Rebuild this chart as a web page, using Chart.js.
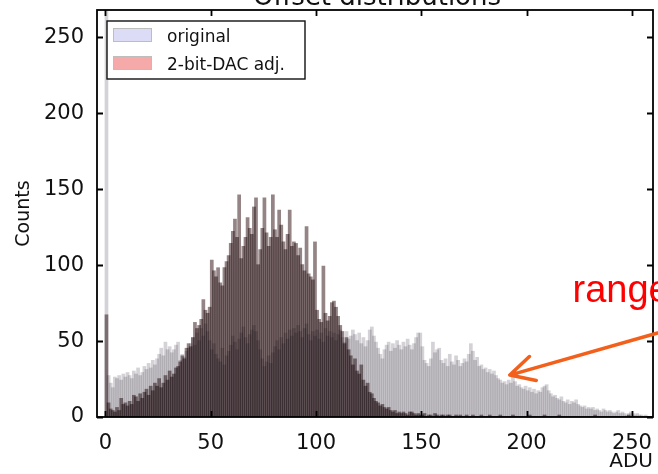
<!DOCTYPE html>
<html>
<head>
<meta charset="utf-8">
<script src="https://cdn.jsdelivr.net/npm/chart.js@4.4.0/dist/chart.umd.min.js"></script>
<style>
html, body { margin: 0; padding: 0; background: #fff; overflow: hidden; }
#wrap { width: 658px; height: 474px; position: relative; }
</style>
</head>
<body>
<div id="wrap"><canvas id="offsetChart"></canvas></div>
<script>
// histogram bins (ADU), one count per bin
var binStart = Array.from({length: 260}, function (_, i) { return i; });

var original = [
  300, 27, 22, 19, 26, 25, 27, 24, 28, 26,
  29, 27, 25, 30, 28, 32, 27, 29, 33, 31,
  35, 32, 37, 34, 38, 41, 45, 40, 49, 44,
  46, 42, 44, 47, 49, 37, 41, 39, 43, 45,
  48, 52, 47, 55, 50, 58, 53, 61, 56, 50,
  44, 48, 41, 38, 36, 45, 34, 40, 43, 47,
  53, 49, 44, 51, 55, 59, 52, 48, 54, 57,
  60, 56, 50, 44, 38, 33, 36, 40, 35, 42,
  46, 50, 44, 52, 48, 55, 51, 57, 53, 58,
  55, 60, 56, 52, 58, 61, 54, 50, 56, 53,
  57, 51, 55, 49, 58, 53, 56, 52, 55, 50,
  54, 57, 52, 49, 56, 51, 53, 57, 54, 50,
  55, 48, 52, 46, 50, 57, 59, 53, 49, 45,
  41, 38, 44, 47, 49, 43, 48, 45, 50, 47,
  44, 49, 46, 51, 47, 44, 48, 52, 55, 55,
  46, 37, 35, 33, 38, 49, 42, 44, 45, 37,
  35, 38, 33, 41, 36, 34, 40, 37, 33, 35,
  38, 36, 41, 48, 43, 37, 39, 33, 34, 31,
  32, 29, 31, 28, 30, 27, 25, 24, 22, 23,
  21, 24, 22, 26, 23, 20, 21, 19, 18, 20,
  17, 19, 16, 18, 15, 17, 16, 19, 20, 21,
  17, 15, 13, 14, 12, 11, 13, 10, 9, 11,
  8, 10, 9, 11, 8, 7, 6, 7, 5, 6,
  5, 6, 4, 5, 4, 3, 5, 4, 3, 4,
  3, 2, 3, 4, 2, 3, 2, 1, 2, 3,
  2, 1, 2, 1, 1, 0, 1, 0, 0, 0
];

var dacAdjusted = [
  67, 9, 5, 4, 3, 6, 4, 12, 8, 9,
  7, 10, 8, 14, 13, 10, 15, 12, 16, 18,
  14, 20, 17, 22, 20, 25, 19, 22, 27, 24,
  30, 26, 28, 32, 33, 36, 40, 38, 45, 48,
  46, 52, 62, 58, 60, 64, 77, 70, 68, 72,
  103, 96, 92, 98, 88, 86, 98, 102, 106, 114,
  122, 130, 118, 146, 104, 112, 118, 131, 124, 120,
  138, 144, 100, 110, 124, 144, 121, 112, 118, 146,
  123, 118, 136, 126, 115, 110, 120, 136, 112, 115,
  114, 106, 111, 100, 96, 125, 94, 92, 90, 115,
  70, 64, 62, 99, 68, 63, 66, 75, 76, 72,
  66, 60, 56, 48, 52, 44, 40, 34, 38, 30,
  28, 34, 24, 20, 22, 16, 15, 12, 10, 9,
  7, 8, 6, 5, 6, 4, 3, 4, 2, 3,
  2, 3, 2, 1, 3, 3, 2, 1, 2, 1,
  1, 2, 0, 1, 1, 0, 2, 1, 0, 1,
  1, 0, 1, 1, 0, 0, 1, 0, 1, 0,
  0, 1, 0, 0, 1, 0, 0, 0, 1, 0,
  0, 0, 1, 0, 0, 0, 0, 1, 0, 0,
  0, 0, 0, 1, 0, 0, 0, 0, 0, 0,
  0, 1, 0, 0, 0, 0, 0, 0, 1, 0,
  0, 0, 0, 0, 0, 1, 0, 0, 0, 0,
  0, 0, 0, 0, 0, 0, 0, 0, 0, 0,
  0, 0, 1, 0, 0, 0, 0, 0, 0, 0,
  0, 0, 0, 0, 0, 0, 0, 0, 1, 0,
  0, 0, 0, 0, 0, 0, 0, 0, 0, 0
];

var xTicks = [0, 50, 100, 150, 200, 250];
var yTicks = [0, 50, 100, 150, 200, 250];

// annotation (data units): arrow from outside the axes to the tail
var arrowTip = {x: 192, y: 27.6};
var arrowTail = {x: 285, y: 64.3};
var rangeLabel = {x: 221.8, y: 75.7, text: 'range'};

function toPoints(values) {
  return values.map(function (v, i) { return {x: binStart[i] + 0.5, y: v}; });
}

var swatches = ['#dcdcf7', '#f6a9a9'];

var decor = {
  id: 'decor',
  beforeDatasetsDraw: function (chart) {
    chart.ctx.save();
    chart.ctx.globalCompositeOperation = 'multiply';
  },
  afterDatasetsDraw: function (chart) {
    chart.ctx.restore();
  },
  afterDraw: function (chart) {
    var ctx = chart.ctx, a = chart.chartArea;
    var xs = chart.scales.x, ys = chart.scales.y;
    ctx.save();
    ctx.strokeStyle = '#000';
    ctx.lineWidth = 1.8;
    ctx.strokeRect(a.left, a.top, a.right - a.left, a.bottom - a.top);
    ctx.beginPath();
    xTicks.forEach(function (v) {
      var px = Math.round(xs.getPixelForValue(v)) + 0.5;
      ctx.moveTo(px, a.bottom); ctx.lineTo(px, a.bottom - 6);
      ctx.moveTo(px, a.top); ctx.lineTo(px, a.top + 6);
    });
    yTicks.forEach(function (v) {
      var py = Math.round(ys.getPixelForValue(v)) + 0.5;
      ctx.moveTo(a.left, py); ctx.lineTo(a.left + 6, py);
      ctx.moveTo(a.right, py); ctx.lineTo(a.right - 6, py);
    });
    ctx.stroke();

    // title (cut off by the top edge in the original)
    ctx.fillStyle = '#111';
    ctx.font = '26px "DejaVu Sans"';
    ctx.textAlign = 'center';
    ctx.textBaseline = 'alphabetic';
    ctx.fillText('Offset distributions', (a.left + a.right) / 2 + 2, 5);

    // legend
    ctx.fillStyle = '#fff';
    ctx.fillRect(107, 21, 198, 58);
    ctx.lineWidth = 1.4;
    ctx.strokeStyle = '#111';
    ctx.strokeRect(107, 21, 198, 58);
    ctx.font = '17px "DejaVu Sans"';
    ctx.textAlign = 'left';
    chart.data.datasets.forEach(function (ds, i) {
      var y = 28 + i * 28;
      ctx.fillStyle = swatches[i];
      ctx.fillRect(113, y, 39, 14);
      ctx.strokeStyle = '#bdbdbd';
      ctx.lineWidth = 1;
      ctx.strokeRect(113.5, y + 0.5, 38, 13);
      ctx.fillStyle = '#111';
      ctx.fillText(ds.label, 167, y + 14);
    });

    // arrow and red label
    var tx = xs.getPixelForValue(arrowTip.x), ty = ys.getPixelForValue(arrowTip.y);
    var sx = xs.getPixelForValue(arrowTail.x), sy = ys.getPixelForValue(arrowTail.y);
    var ang = Math.atan2(sy - ty, sx - tx);
    ctx.strokeStyle = '#f2601c';
    ctx.lineWidth = 3.5;
    ctx.lineCap = 'round';
    ctx.lineJoin = 'round';
    ctx.beginPath();
    ctx.moveTo(sx, sy); ctx.lineTo(tx, ty);
    ctx.moveTo(tx + 27 * Math.cos(ang - 0.48), ty + 27 * Math.sin(ang - 0.48));
    ctx.lineTo(tx, ty);
    ctx.lineTo(tx + 27 * Math.cos(ang + 0.48), ty + 27 * Math.sin(ang + 0.48));
    ctx.stroke();
    ctx.fillStyle = '#ff0000';
    ctx.font = '38px "Liberation Sans"';
    ctx.textAlign = 'left';
    ctx.fillText(rangeLabel.text, xs.getPixelForValue(rangeLabel.x), ys.getPixelForValue(rangeLabel.y));
    ctx.restore();
  }
};

Chart.defaults.font.family = '"DejaVu Sans", sans-serif';
Chart.defaults.color = '#111';

var offsetChart = new Chart(document.getElementById('offsetChart'), {
  type: 'bar',
  data: {
    datasets: [{
      label: 'original',
      data: toPoints(original),
      backgroundColor: '#d4d2d6',
      borderWidth: 0,
      inflateAmount: 0.8,
      grouped: false,
      barPercentage: 1,
      categoryPercentage: 1
    }, {
      label: '2-bit-DAC adj.',
      data: toPoints(dacAdjusted),
      backgroundColor: '#948486',
      borderWidth: 0,
      inflateAmount: 0.8,
      grouped: false,
      barPercentage: 1,
      categoryPercentage: 1
    }]
  },
  options: {
    responsive: true,
    maintainAspectRatio: false,
    animation: false,
    layout: { padding: { left: 0, right: 5, top: 10, bottom: 0 } },
    plugins: {
      legend: { display: false },
      tooltip: { enabled: false }
    },
    scales: {
      x: {
        type: 'linear',
        min: -4,
        max: 260,
        offset: false,
        grid: { display: false },
        border: { display: false },
        afterBuildTicks: function (axis) { axis.ticks = xTicks.map(function (v) { return {value: v}; }); },
        afterFit: function (axis) { axis.height = 57; axis.paddingLeft = 0; axis.paddingRight = 0; },
        ticks: { font: { size: 21 }, padding: 6, maxRotation: 0 },
        title: { display: true, text: 'ADU', align: 'end', font: { size: 20 }, padding: { top: 0, bottom: 0 } }
      },
      y: {
        min: 0,
        max: 268,
        grid: { display: false },
        border: { display: false },
        afterBuildTicks: function (axis) { axis.ticks = yTicks.map(function (v) { return {value: v}; }); },
        afterFit: function (axis) { axis.width = 97; axis.paddingTop = 0; axis.paddingBottom = 0; },
        ticks: { font: { size: 21 }, padding: 5 },
        title: { display: true, text: 'Counts', font: { size: 19 }, padding: { top: 13, bottom: 0 } }
      }
    }
  },
  plugins: [decor]
});
</script>
</body>
</html>
